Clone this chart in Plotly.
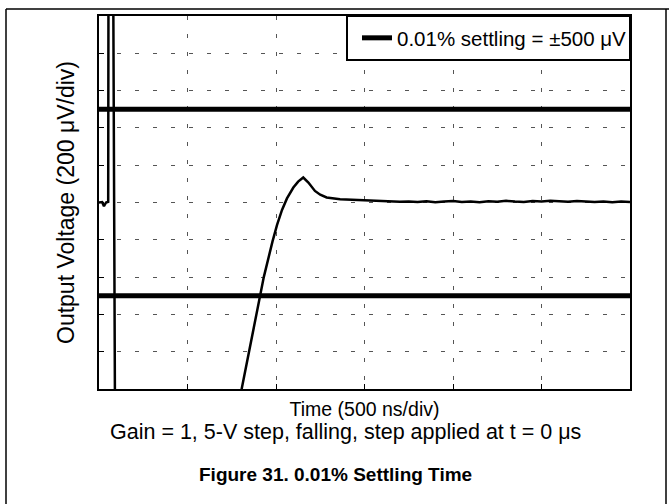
import plotly.graph_objects as go

# scope trace, time in ns (500 ns/div), output in uV (200 uV/div)
time_ns = [0, 18, 28, 40, 52, 54, 79, 92, 754, 806, 931, 955, 980, 1006, 1034,
           1062, 1098, 1125, 1154, 1183, 1220, 1250, 1286, 1362, 1450, 1514, 1600,
           1700, 1750, 1800, 1850, 1900, 1950, 2000, 2050, 2100, 2150, 2200, 2250,
           2300, 2350, 2400, 2450, 2500, 2550, 2600, 2650, 2700, 2750, 2800, 2850,
           2900, 2950, 3000]
output_uv = [0, 2, -20, 0, 4, 1500, 1500, -1500, -1500, -1000, -400, -300, -210,
             -120, -40, 22, 80, 112, 134, 107, 62, 42, 27, 18, 14, 12, 8,
             4, 6, 3, 7, 2, 5, 8, 3, 6, 2, 7, 4, 9, 5, 3, 8, 6, 10, 7, 4, 8, 5,
             3, 6, 2, 5, 3]

limit_t = [0, 3000, None, 0, 3000]
limit_uv = [500, 500, None, -500, -500]

FONT = "Liberation Sans, Arial, sans-serif"
L, R, T, B = 99, 630, 16, 389
W, H = 669, 504


def px(x):
    return (x - L) / (R - L)


def py(y):
    return (B - y) / (B - T)


fig = go.Figure()
fig.add_trace(go.Scatter(x=limit_t, y=limit_uv, mode="lines",
                         line=dict(color="black", width=5),
                         name="0.01% settling = ±500 μV"))
fig.add_trace(go.Scatter(x=time_ns, y=output_uv, mode="lines",
                         line=dict(color="black", width=2.5), showlegend=False))

axis_common = dict(showline=True, mirror=True, linecolor="black", linewidth=2,
                   showgrid=True, gridcolor="#555", gridwidth=1, griddash="4px,14px",
                   zeroline=False, showticklabels=False, ticks="inside", ticklen=5,
                   tickcolor="black")
fig.update_xaxes(range=[0, 3000], dtick=500, **axis_common,
                 title=dict(text="Time (500 ns/div)", font=dict(size=19.5, color="black"),
                            standoff=12))
fig.update_yaxes(range=[-1000, 1000], dtick=200, **axis_common,
                 title=dict(text="Output Voltage (200 μV/div)",
                            font=dict(size=23, color="black"), standoff=16))

# legend frame + page frame
fig.add_shape(type="rect", xref="paper", yref="paper", x0=px(347), x1=1, y0=py(60), y1=1,
              line=dict(color="black", width=2), fillcolor="white", layer="above")
fig.add_shape(type="line", xref="paper", yref="paper", x0=px(6), x1=px(669), y0=py(9), y1=py(9),
              line=dict(color="black", width=1.5))
fig.add_shape(type="line", xref="paper", yref="paper", x0=px(6), x1=px(6), y0=py(9), y1=py(504),
              line=dict(color="black", width=1.5))
fig.add_shape(type="line", xref="paper", yref="paper", x0=px(666), x1=px(666), y0=py(9), y1=py(504),
              line=dict(color="black", width=1.5))

fig.add_annotation(text="Gain = 1, 5-V step, falling, step applied at t = 0 μs",
                   xref="paper", yref="paper", x=px(345), y=py(432), showarrow=False,
                   xanchor="center", yanchor="middle",
                   font=dict(size=21.5, color="black", family=FONT))
fig.add_annotation(text="<b>Figure 31. 0.01% Settling Time</b>",
                   xref="paper", yref="paper", x=px(335), y=py(474), showarrow=False,
                   xanchor="center", yanchor="middle",
                   font=dict(size=19, color="black", family=FONT))

fig.update_layout(
    width=W, height=H,
    margin=dict(l=L, r=W - R, t=T, b=H - B),
    paper_bgcolor="white", plot_bgcolor="white",
    font=dict(family=FONT, color="black"),
    legend=dict(x=px(357), y=py(38), xanchor="left", yanchor="middle",
                bgcolor="rgba(0,0,0,0)", borderwidth=0,
                font=dict(size=20.5, color="black")),
)

fig.write_html("out.html", config={"displayModeBar": False},
               post_script="document.body.style.margin='0px';")
